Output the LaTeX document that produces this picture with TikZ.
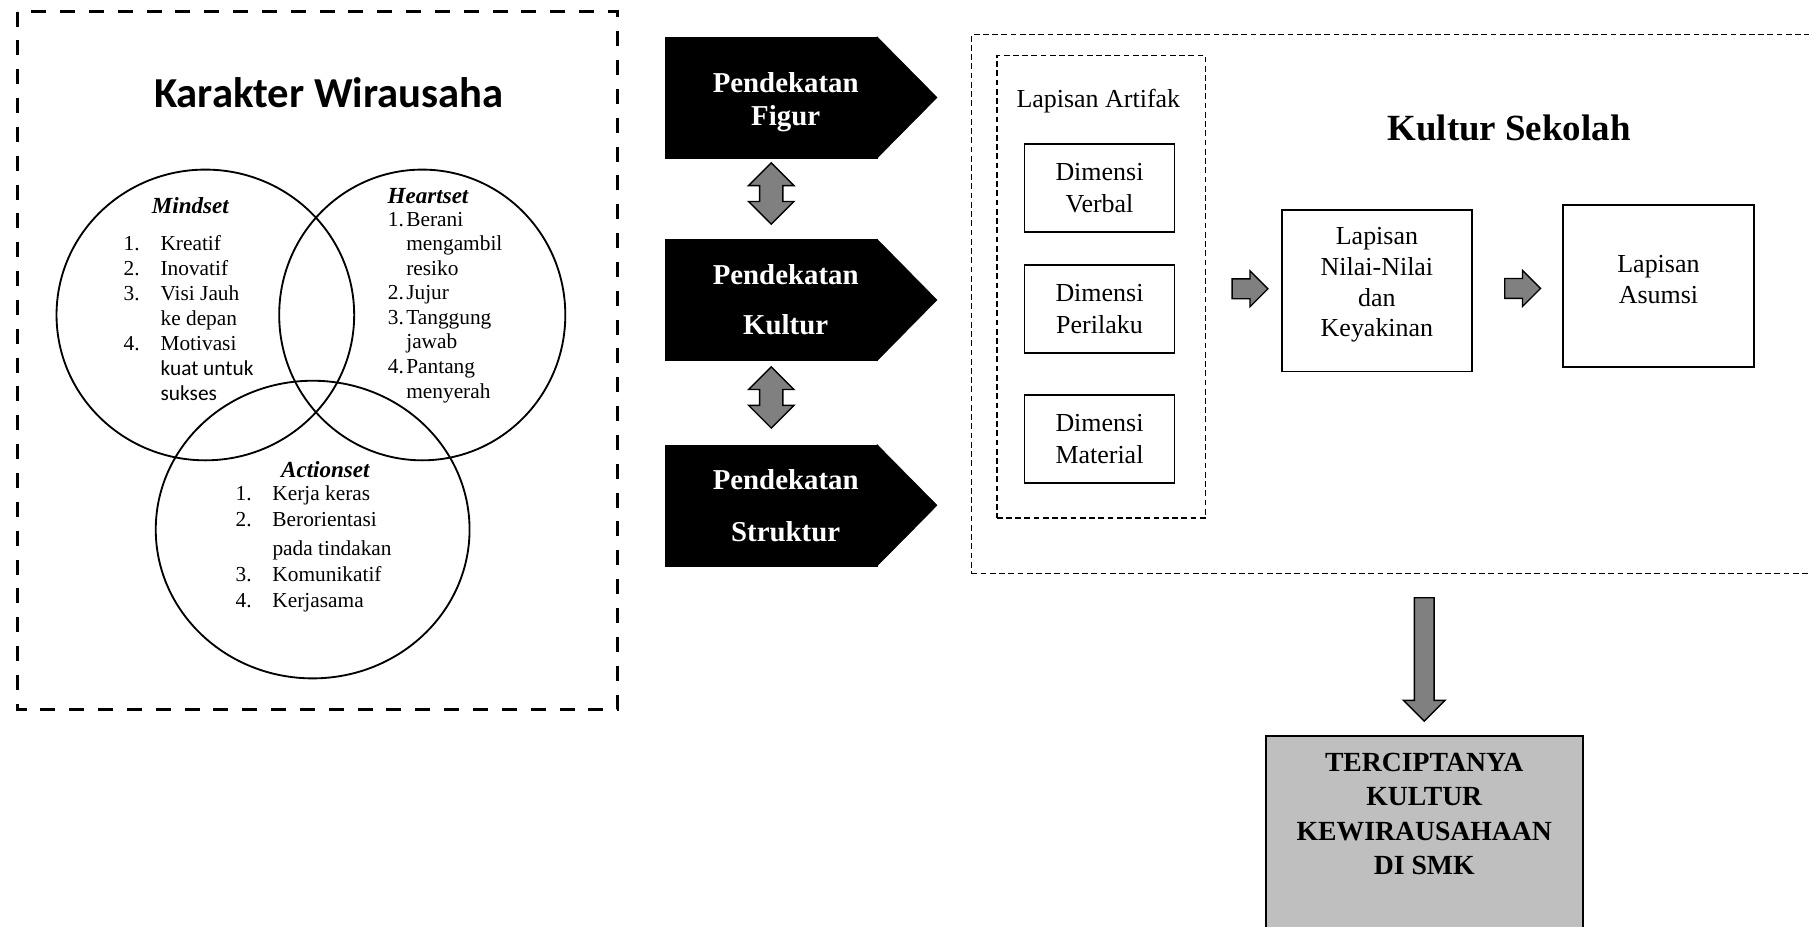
\documentclass[tikz,border=0pt]{standalone}
\usepackage{fontspec}
\setmainfont{Liberation Serif}
\newfontfamily\carlito{Carlito}
\usetikzlibrary{shapes.arrows,shapes.geometric,calc}

\tikzset{
    lingkaran/.style={ellipse, draw, line width=1.6pt, inner sep=0pt},
    judulset/.style={font=\bfseries\itshape\fontsize{20}{24}\selectfont},
    daftar/.style={anchor=base west, inner sep=0pt},
    pendekatan/.style={fill=black, draw=black, minimum width=183pt, minimum height=105pt, inner sep=0pt},
    pendteks/.style={text=white, align=center, xshift=12.5pt, font=\bfseries\fontsize{25}{29}\selectfont},
    kotak/.style={draw, line width=1.6pt, align=center, inner sep=0pt},
    lapisteks/.style={align=center, inner sep=0pt, font=\fontsize{22.5}{26.7}\selectfont},
    garis putus/.style={draw, line width=1.3pt, dash pattern=on 5pt off 3pt},
    panah abu/.style={single arrow, draw=black, fill=gray, line width=1.2pt, inner xsep=0pt, inner ysep=8pt, single arrow head extend=7pt},
    panah ganda/.style={double arrow, draw=black, fill=gray, line width=1.2pt, inner xsep=0pt, inner ysep=9.5pt, double arrow head extend=9.5pt, minimum height=53pt, rotate=90},
    hasilteks/.style={anchor=north, yshift=-16pt, inner sep=0pt, align=center, font=\bfseries\fontsize{24}{29.5}\selectfont}
}

\begin{document}
\begin{tikzpicture}[x=1pt,y=-1pt]
    \useasboundingbox (0,0) rectangle (1568,803);

    % karakter wirausaha
    \draw[line width=2.6pt, dash pattern=on 13pt off 12pt] (15,10) rectangle (535,615);
    \node[font=\carlito\bfseries\fontsize{37}{44}\selectfont] (karakter) at (285,80) {Karakter Wirausaha};

    \node[lingkaran, minimum width=258pt, minimum height=252pt] (mindset) at (178,273) {};
    \node[lingkaran, minimum width=248pt, minimum height=252pt] (heartset) at (366,273) {};
    \node[lingkaran, minimum width=272pt, minimum height=258pt] (actionset) at (271,459) {};

    \node[judulset] (mindsetlbl) at (165,178) {Mindset};
    \node[judulset] (heartsetlbl) at (371,170) {Heartset};
    \node[judulset] (actionsetlbl) at (282,407) {Actionset};

    \node[daftar, font=\fontsize{18.5}{21.7}\selectfont] (mindlist) at (107,217) {\begin{tabular}[t]{@{}p{32pt}@{}l@{}}
        1. & Kreatif\\
        2. & Inovatif\\
        3. & Visi Jauh\\
           & ke depan\\
        4. & Motivasi\\
           & {\carlito kuat untuk}\\
           & {\carlito sukses}
    \end{tabular}};
    \node[daftar, font=\fontsize{18.5}{21.3}\selectfont] (heartlist) at (336,196) {\begin{tabular}[t]{@{}p{16pt}@{}l@{}}
        1. & Berani\\
           & mengambil\\
           & resiko\\
        2. & Jujur\\
        3. & Tanggung\\
           & jawab\\
        4. & Pantang\\
           & menyerah
    \end{tabular}};
    \node[daftar, font=\fontsize{18.5}{22.3}\selectfont] (actionlist) at (204,434) {\begin{tabular}[t]{@{}p{32pt}@{}l@{}}
        1. & Kerja keras\\
        2. & Berorientasi\\[3pt]
           & pada tindakan\\
        3. & Komunikatif\\
        4. & Kerjasama
    \end{tabular}};

    % pendekatan
    \node[pendekatan, label={[pendteks, yshift=-4pt]center:{Pendekatan\\Figur}}] (figur) at (668.5,84.5) {};
    \node[pendekatan, label={[pendteks]center:{Pendekatan\\[14pt]Kultur}}] (kultur) at (668.5,260) {};
    \node[pendekatan, label={[pendteks]center:{Pendekatan\\[16pt]Struktur}}] (struktur) at (668.5,438) {};
    \foreach \p in {figur,kultur,struktur}
        \filldraw (\p.north east) -- ([xshift=52pt]\p.east) -- (\p.south east) -- cycle;

    \node[panah ganda, xshift=4.5pt] (ganda1) at ($(figur)!0.5!(kultur)$) {};
    \node[panah ganda, xshift=4.5pt] (ganda2) at ($(kultur)!0.5!(struktur)$) {};

    % kultur sekolah
    \node[garis putus, minimum width=778pt, minimum height=467pt] (sekolah) at (1231,263.5) {};
    \node[font=\bfseries\fontsize{32}{38}\selectfont] (sekolahlbl) at (1308,111) {Kultur Sekolah};

    \node[garis putus, minimum width=181pt, minimum height=401pt] (artifak) at (954.5,248.5) {};
    \node[font=\fontsize{22.5}{27}\selectfont] (artifaklbl) at (952,88) {Lapisan Artifak};
    \node[kotak, minimum width=130pt, minimum height=76pt, font=\fontsize{22.5}{28}\selectfont] (verbal) at (953,163) {Dimensi\\Verbal};
    \node[kotak, minimum width=130pt, minimum height=76pt, font=\fontsize{22.5}{28}\selectfont] (perilaku) at (953,268) {Dimensi\\Perilaku};
    \node[kotak, minimum width=130pt, minimum height=76pt, font=\fontsize{22.5}{28}\selectfont] (material) at (953,380.5) {Dimensi\\Material};

    \node[kotak, minimum width=165pt, minimum height=140pt,
        label={[lapisteks, yshift=5pt]center:{Lapisan\\Nilai-Nilai\\dan\\Keyakinan}}] (nilai) at (1193.5,252) {};
    \node[kotak, minimum width=165pt, minimum height=140pt,
        label={[lapisteks, yshift=6pt]center:{Lapisan\\Asumsi}}] (asumsi) at (1437.5,248) {};

    \node[panah abu, minimum height=31pt] (panah1) at ($(artifak.east)!0.52!(nilai.west)$) {};
    \node[panah abu, minimum height=31pt] (panah2) at ($(nilai.east)!0.5!(asumsi.west)$) {};

    % hasil
    \node[kotak, fill=black!25, minimum width=275pt, minimum height=193pt, anchor=north,
        label={[hasilteks]north:{TERCIPTANYA\\KULTUR\\KEWIRAUSAHAAN\\DI SMK}}] (hasil) at (1234.5,637) {};
    \node[panah abu, minimum height=107pt, single arrow head extend=9.5pt, rotate=-90] (panah3)
        at ($(hasil.north)!0.5!(hasil.north |- sekolah.south)$) {};
\end{tikzpicture}
\end{document}
